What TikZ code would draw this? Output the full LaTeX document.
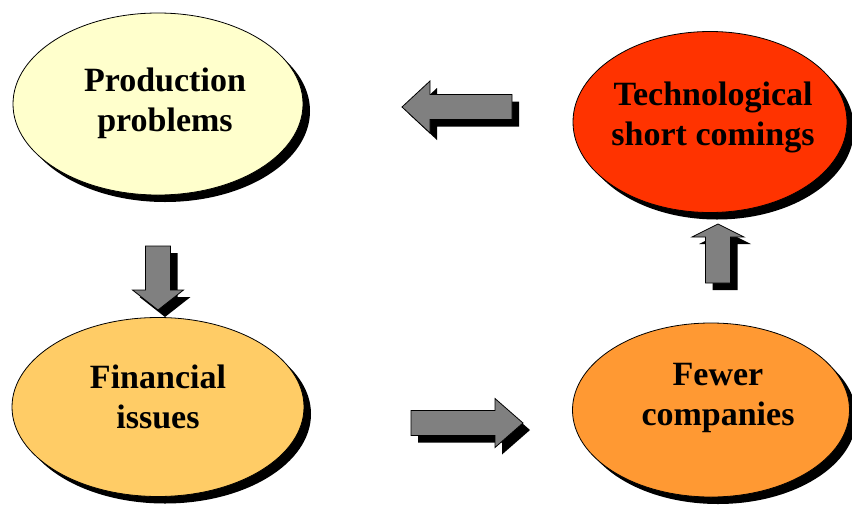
\documentclass[tikz,border=0pt]{standalone}
\usepackage{fontspec}
\setmainfont{Liberation Serif}
\usetikzlibrary{shapes.geometric,shadows,calc}

\definecolor{prodfill}{HTML}{FFFFCC}
\definecolor{techfill}{HTML}{FF3300}
\definecolor{finfill}{HTML}{FFCC66}
\definecolor{fewfill}{HTML}{FF9933}
\definecolor{arrowgray}{HTML}{808080}

\tikzset{
  bubble/.style={ellipse, draw=black, line width=0.8pt, inner sep=0pt,
    drop shadow={shadow xshift=7pt, shadow yshift=-7pt, fill=black, opacity=1}},
  bubbletext/.style={font=\bfseries\fontsize{34}{40}\selectfont, align=center, inner sep=0pt},
  arrowbody/.style={fill=arrowgray, draw=black, line width=0.8pt, line join=miter},
  arrowshade/.style={fill=black},
}

% Block arrow: #1 tip coordinate, #2 direction (degrees), #3 total length,
% #4 head length, #5 head half-width; the shaft half-width is 12.5
\newcommand\blockarrow[5]{%
  \fill[arrowshade, shift={($(#1)+(7,7)$)}, rotate=#2]
    (0,0) -- (-#4,#5) -- (-#4,12.5) -- (-#3,12.5) -- (-#3,-12.5) -- (-#4,-12.5) -- (-#4,-#5) -- cycle;
  \draw[arrowbody, shift={(#1)}, rotate=#2]
    (0,0) -- (-#4,#5) -- (-#4,12.5) -- (-#3,12.5) -- (-#3,-12.5) -- (-#4,-12.5) -- (-#4,-#5) -- cycle;
}

\begin{document}
\begin{tikzpicture}[x=1pt,y=-1pt]
  \useasboundingbox (0,0) rectangle (852,504);

  % the four ellipses
  \node[bubble, fill=prodfill, minimum width=290pt, minimum height=182pt] (prodE) at (158,104) {};
  \node[bubble, fill=techfill, minimum width=274pt, minimum height=181pt] (techE) at (710,122) {};
  \node[bubble, fill=finfill,  minimum width=292pt, minimum height=179pt] (finE)  at (158,407) {};
  \node[bubble, fill=fewfill,  minimum width=277pt, minimum height=174pt] (fewE)  at (711,410) {};

  % their texts
  \node[bubbletext] (prod) at (165,103.5) {Production\\problems};
  \node[bubbletext] (tech) at (713,117.5) {Technological\\short comings};
  \node[bubbletext] (fin)  at (158,397)   {Financial\\issues};
  \node[bubbletext] (few)  at (718,397.5) {Fewer\\companies};

  % arrow tips
  \coordinate (tipLeft)  at (402,107);
  \coordinate (tipDown)  at (158,310);
  \coordinate (tipRight) at (523,423);
  \coordinate (tipUp)    at (718,224);

  \blockarrow{tipLeft}{180}{110}{28}{26}
  \blockarrow{tipDown}{270}{64}{20}{25.5}
  \blockarrow{tipRight}{0}{112}{28}{24.5}
  \blockarrow{tipUp}{90}{59}{13}{26}
\end{tikzpicture}
\end{document}
